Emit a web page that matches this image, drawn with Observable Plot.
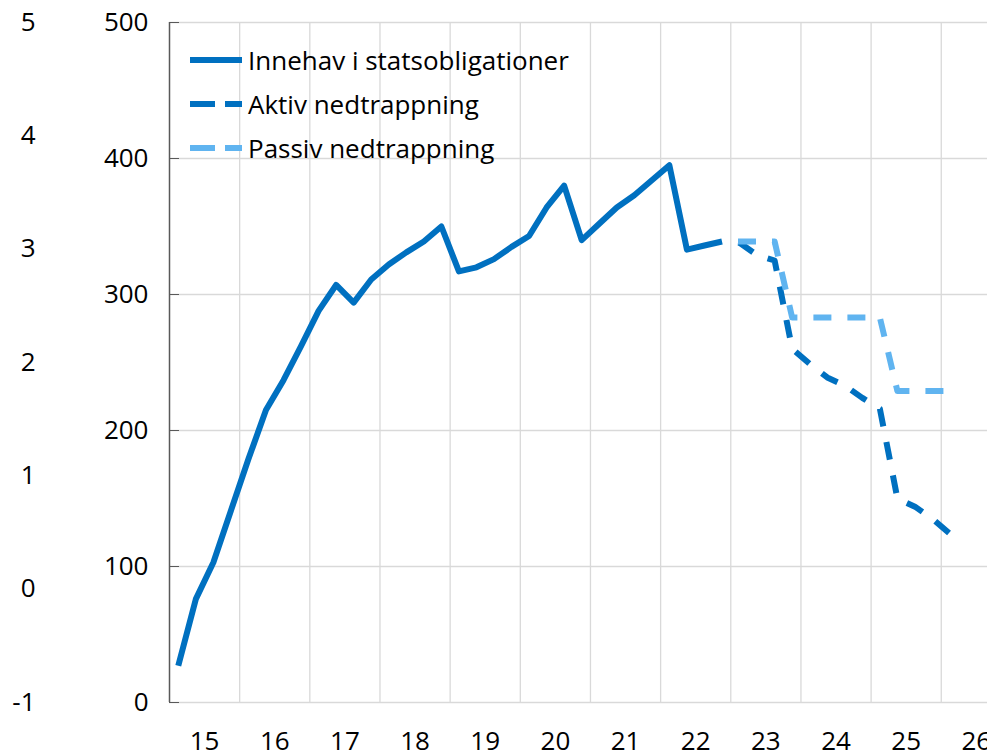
<!DOCTYPE html>
<html>
<head>
<meta charset="utf-8">
<script src="https://cdn.jsdelivr.net/npm/d3@7"></script>
<script src="https://cdn.jsdelivr.net/npm/@observablehq/plot@0.6"></script>
<style>
html, body { margin: 0; padding: 0; background: #fff; }
#wrap { position: relative; width: 987px; height: 752px; overflow: hidden; font-family: "Open Sans", sans-serif; }
#legend { position: absolute; left: 190px; top: 38px; }
.row { display: flex; align-items: center; height: 44px; font-size: 26px; color: #000; white-space: nowrap; }
.row svg { margin-right: 6px; display: block; }
</style>
</head>
<body>
<div id="wrap"><div id="legend"></div></div>
<script>
// Quarters (x categories)
const quarters = [
  "2015Q1","2015Q2","2015Q3","2015Q4",
  "2016Q1","2016Q2","2016Q3","2016Q4",
  "2017Q1","2017Q2","2017Q3","2017Q4",
  "2018Q1","2018Q2","2018Q3","2018Q4",
  "2019Q1","2019Q2","2019Q3","2019Q4",
  "2020Q1","2020Q2","2020Q3","2020Q4",
  "2021Q1","2021Q2","2021Q3","2021Q4",
  "2022Q1","2022Q2","2022Q3","2022Q4",
  "2023Q1","2023Q2","2023Q3","2023Q4",
  "2024Q1","2024Q2","2024Q3","2024Q4",
  "2025Q1","2025Q2","2025Q3","2025Q4",
  "2026Q1"
];
// Innehav i statsobligationer (2015Q1 - 2022Q4)
const holdings = [27, 76, 103, 141, 179, 215, 237, 262, 288, 307, 294, 311, 322, 331, 339, 350,
                  317, 320, 326, 335, 343, 364, 380, 340, 352, 364, 373, 384, 395, 333, 336, 339];
// Projections (2022Q4 - 2026Q1)
const projQuarters = quarters.slice(31);
const aktiv  = [339, 338, 329, 325, 260, 249, 239, 233, 224, 216, 150, 144, 135, 124];
const passiv = [339, 339, 339, 339, 283, 283, 283, 283, 283, 283, 229, 229, 229, 229];

const years = [2015, 2016, 2017, 2018, 2019, 2020, 2021, 2022, 2023, 2024, 2025, 2026];
const yearLabels = ["15","16","17","18","19","20","21","22","23","24","25","26"];
const yTicks = [0, 100, 200, 300, 400, 500];
const outerTicks = [-1, 0, 1, 2, 3, 4, 5];

const names = ["Innehav i statsobligationer", "Aktiv nedtrappning", "Passiv nedtrappning"];
const dark = "#0070c0";
const light = "#60b4f0";

const qx = q => +q.slice(0, 4) + (+q.slice(5) - 0.5) / 4;
const solidData = holdings.map((v, i) => ({x: qx(quarters[i]), y: v}));
const aktivData = aktiv.map((v, i) => ({x: qx(projQuarters[i]), y: v}));
const passivData = passiv.map((v, i) => ({x: qx(projQuarters[i]), y: v}));

const outerMap = v => (v + 1) * 500 / 6;

const chart = Plot.plot({
  width: 987,
  height: 752,
  marginLeft: 169,
  marginRight: 0,
  marginTop: 22,
  marginBottom: 50,
  style: {fontFamily: '"Open Sans", sans-serif', fontSize: "26px", color: "#000", background: "transparent", overflow: "visible"},
  x: {domain: [2015, 2015 + 818 / 70.16], label: null},
  y: {domain: [0, 500], label: null},
  marks: [
    Plot.ruleY(yTicks, {stroke: "#d9d9d9", strokeWidth: 1.3}),
    Plot.ruleX(years.slice(1), {stroke: "#d9d9d9", strokeWidth: 1.3}),
    Plot.ruleX([years[0]], {stroke: "#595959", strokeWidth: 1.5}),
    Plot.axisY(yTicks, {tickSize: 10, dx: 10, tickFormat: () => "", stroke: "#595959", label: null}),
    Plot.axisY(yTicks, {tickSize: 0, tickPadding: 21, fill: "#000", label: null}),
    Plot.axisY(outerTicks.map(outerMap), {tickSize: 0, tickPadding: 134, fill: "#000", label: null,
      tickFormat: d => String(outerTicks[Math.round(d * 6 / 500)])}),
    Plot.axisX(years.map(y => y + 0.5), {tickSize: 0, tickPadding: 29, fill: "#000", label: null,
      tickFormat: d => yearLabels[years.indexOf(Math.floor(d))]}),
    Plot.line(solidData, {x: "x", y: "y", stroke: dark, strokeWidth: 6, strokeLinejoin: "round", strokeLinecap: "butt"}),
    Plot.line(aktivData, {x: "x", y: "y", stroke: dark, strokeWidth: 6, strokeLinejoin: "round", strokeLinecap: "butt",
      strokeDasharray: "18,16", strokeDashoffset: 18}),
    Plot.line(passivData, {x: "x", y: "y", stroke: light, strokeWidth: 6, strokeLinejoin: "round", strokeLinecap: "butt",
      strokeDasharray: "18,16", strokeDashoffset: 18})
  ]
});
document.getElementById("wrap").prepend(chart);

// Legend
const legendItems = [
  {name: names[0], color: dark, dash: null},
  {name: names[1], color: dark, dash: "25,10"},
  {name: names[2], color: light, dash: "25,10"}
];
const legend = document.getElementById("legend");
for (const it of legendItems) {
  const row = document.createElement("div");
  row.className = "row";
  row.innerHTML = `<svg width="52" height="8"><line x1="0" x2="52" y1="4" y2="4" stroke="${it.color}" stroke-width="6"${it.dash ? ` stroke-dasharray="${it.dash}"` : ""}/></svg><span>${it.name}</span>`;
  legend.appendChild(row);
}
</script>
</body>
</html>
